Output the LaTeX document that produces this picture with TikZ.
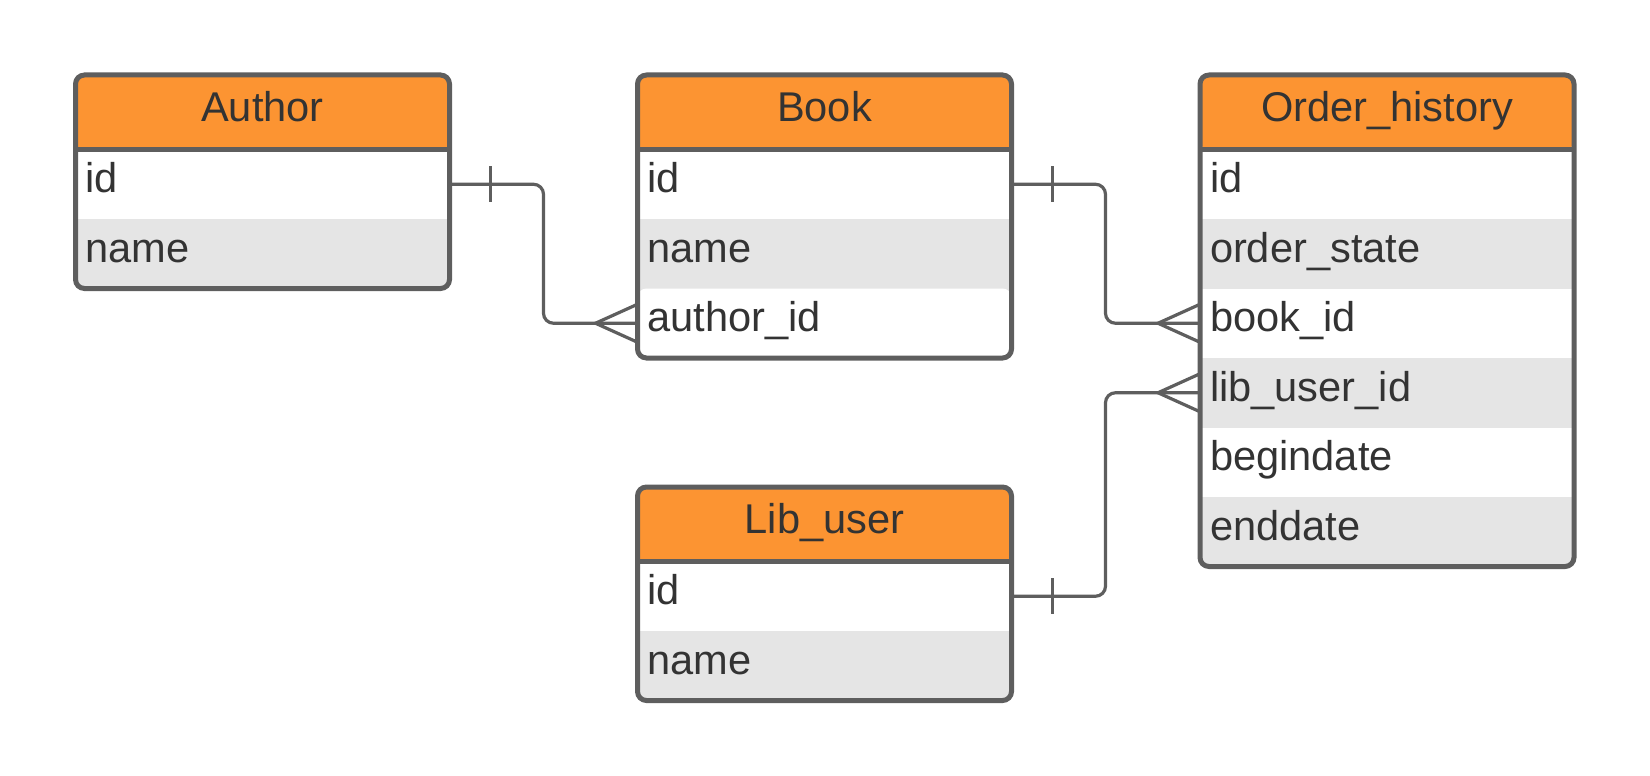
\documentclass[tikz,border=0pt]{standalone}
\usepackage{fontspec}
\setmainfont{Liberation Sans}
\usetikzlibrary{positioning,backgrounds}

\definecolor{headorange}{HTML}{FC9432}
\definecolor{framegrey}{HTML}{5E5E5E}
\definecolor{fieldgrey}{HTML}{E5E5E5}
\definecolor{textgrey}{HTML}{333333}

\begin{document}
\begin{tikzpicture}
        [x=1pt,y=-1pt,
         every node/.style={text=textgrey,font=\fontsize{41.6}{49}\selectfont,inner sep=0,outer sep=0},
         tablehead/.style={fill=headorange,rounded corners=9pt,minimum width=374pt,minimum height=74.5pt,text height=30pt,text depth=11pt},
         tablefield/.style={minimum height=69.5pt,inner xsep=10pt,text width=354pt,align=left,text height=30pt,text depth=13pt},
         tableframe/.style={draw=framegrey,line width=5pt,rounded corners=9pt},
         link/.style={draw=framegrey,line width=3.2pt}]

        \useasboundingbox (0,0) rectangle (1650,776);

        % tables
        \node[tablehead] (author) at (262.5,112.25) {Author};
        \node[tablefield,fill=white,below=0pt of author] (author-id) {id};
        \node[tablefield,below=0pt of author-id] (author-name) {name};

        \node[tablehead] (book) at (824.5,112.25) {Book};
        \node[tablefield,fill=white,below=0pt of book] (book-id) {id};
        \node[tablefield,below=0pt of book-id] (book-name) {name};
        \node[tablefield,fill=white,rounded corners=9pt,below=0pt of book-name] (book-authorid) {author\_id};

        \node[tablehead] (order) at (1387,112.25) {Order\_history};
        \node[tablefield,fill=white,below=0pt of order] (order-id) {id};
        \node[tablefield,below=0pt of order-id] (order-state) {order\_state};
        \node[tablefield,fill=white,below=0pt of order-state] (order-bookid) {book\_id};
        \node[tablefield,below=0pt of order-bookid] (order-userid) {lib\_user\_id};
        \node[tablefield,fill=white,below=0pt of order-userid] (order-begin) {begindate};
        \node[tablefield,below=0pt of order-begin] (order-end) {enddate};

        \node[tablehead] (user) at (824.5,524.25) {Lib\_user};
        \node[tablefield,fill=white,below=0pt of user] (user-id) {id};
        \node[tablefield,below=0pt of user-id] (user-name) {name};

        \foreach \t/\l in {author/author-name,book/book-authorid,order/order-end,user/user-name} {
          \begin{scope}[on background layer]
            \fill[fieldgrey,rounded corners=9pt] (\t.north west) rectangle (\l.south east);
          \end{scope}
          \draw[tableframe] (\t.north west) rectangle (\l.south east);
          \draw[tableframe] (\t.south west) -- (\t.south east);
        }

        % relations: one -> many
        \foreach \a/\b in {author-id/book-authorid,book-id/order-bookid,user-id/order-userid} {
          \draw[link,rounded corners=10pt] (\a.east) -- ++(94,0) |- (\b.west);
          \draw[link] ([xshift=41pt]\a.east) ++(0,-18) -- ++(0,36);
          \draw[link] ([yshift=19pt]\b.west) -- ([xshift=-42pt]\b.west) -- ([yshift=-19pt]\b.west);
        }
      \end{tikzpicture}
\end{document}
